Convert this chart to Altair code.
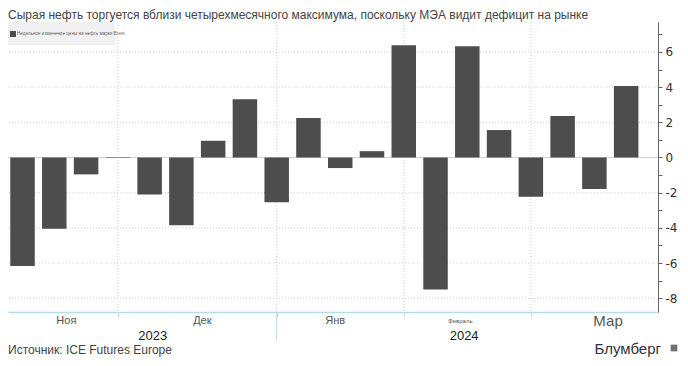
import altair as alt
import pandas as pd

# ---- data ----
weeks = ["2023-11-03", "2023-11-10", "2023-11-17", "2023-11-24", "2023-12-01",
         "2023-12-08", "2023-12-15", "2023-12-22", "2023-12-29", "2024-01-05",
         "2024-01-12", "2024-01-19", "2024-01-26", "2024-02-02", "2024-02-09",
         "2024-02-16", "2024-02-23", "2024-03-01", "2024-03-08", "2024-03-15"]
changes = [-6.17, -4.05, -0.96, 0.03, -2.1, -3.85, 0.95, 3.31, -2.54, 2.25,
           -0.6, 0.36, 6.38, -7.5, 6.32, 1.56, -2.23, 2.36, -1.79, 4.07]
month_labels = ["Ноя", "Дек", "Янв", "Февраль", "Мар"]
month_pos = [1.38, 5.66, 9.84, 13.78, 18.43]
month_size = [11, 11, 11, 6, 15]
year_labels = ["2023", "2024"]
year_pos = [4.1, 13.9]
grid_x = [3, 8, 12, 16]
grid_y = [-8, -6, -4, -2, 2, 4, 6]
y_ticks = list(range(-8, 8))

title_text = "Сырая нефть торгуется вблизи четырехмесячного максимума, поскольку МЭА видит дефицит на рынке"
legend_text = "Недельное изменение цены на нефть марки Brent"
source_text = "Источник: ICE Futures Europe"
brand_text = "Блумберг"

bars_df = pd.DataFrame({"week": weeks, "idx": list(range(len(weeks))), "change": changes})
months_df = pd.DataFrame({"label": month_labels, "pos": month_pos, "size": month_size})
years_df = pd.DataFrame({"label": year_labels, "pos": year_pos})
gx_df = pd.DataFrame({"pos": grid_x})
gy_df = pd.DataFrame({"v": grid_y})
zero_df = pd.DataFrame({"v": [0]})
div_df = pd.DataFrame({"pos": [8]})

W, H = 650, 290
xscale = alt.Scale(domain=[-0.3, 19.845], nice=False, zero=False)
yscale = alt.Scale(domain=[-8.78, 7.70], nice=False, zero=False)

FONT = "Liberation Sans"
one = alt.Data(values=[{"a": 1}])

xaxis = alt.Axis(values=grid_x, labels=False, grid=False, title=None,
                 domainColor="#b6dcea", domainWidth=1.5,
                 tickColor="#b6dcea", tickSize=5)
yaxis = alt.Axis(orient="right", values=y_ticks, grid=False, title=None,
                 labelExpr="datum.value % 2 == 0 ? '' + datum.value : ''",
                 labelFont="DejaVu Sans", labelFontSize=12, labelColor="#333333",
                 labelPadding=3, domainColor="#666666", tickColor="#666666",
                 tickSize=4, labelBaseline="middle")


def X(field):
    return alt.X(field, scale=xscale, axis=xaxis)


def Y(field):
    return alt.Y(field, scale=yscale, axis=yaxis)


# vertical dotted gridlines
vgrid = alt.Chart(gx_df).mark_rule(color="#cfcfcf", strokeDash=[1, 2], strokeWidth=1).encode(
    x=X("pos:Q")
)
# horizontal dotted gridlines
hgrid = alt.Chart(gy_df).mark_rule(color="#cfcfcf", strokeDash=[1, 2], strokeWidth=1).encode(
    y=Y("v:Q")
)
zero_line = alt.Chart(zero_df).mark_rule(color="#d0d0d0", strokeWidth=1).encode(
    y=Y("v:Q")
)

bars = alt.Chart(bars_df).mark_bar(size=24.5, color="#4d4d4d").encode(
    x=X("idx:Q"),
    y=Y("change:Q"),
    tooltip=["week:N", "change:Q"]
)

year_div = alt.Chart(div_df).mark_rule(color="#b6dcea", strokeWidth=1).encode(
    x=X("pos:Q"), y=alt.value(H), y2=alt.value(H + 28)
)

months = alt.Chart(months_df).mark_text(font=FONT, color="#555555", baseline="middle").encode(
    x=X("pos:Q"),
    y=alt.value(H + 9),
    text="label:N",
    size=alt.Size("size:Q", scale=None, legend=None),
)
years = alt.Chart(years_df).mark_text(font=FONT, color="#222222", fontSize=13, baseline="middle").encode(
    x=X("pos:Q"),
    y=alt.value(H + 24),
    text="label:N",
)

title = alt.Chart(one).mark_text(text=title_text, font=FONT, fontSize=12, color="#444444",
                                 align="left", baseline="middle").encode(
    x=alt.value(0), y=alt.value(-7)
)
legend_box = alt.Chart(one).mark_rect(color="#f1f1f1").encode(
    x=alt.value(0), x2=alt.value(107), y=alt.value(0), y2=alt.value(23)
)
legend_sq = alt.Chart(one).mark_rect(color="#4d4d4d").encode(
    x=alt.value(2), x2=alt.value(8), y=alt.value(9), y2=alt.value(15)
)
legend_txt = alt.Chart(one).mark_text(text=legend_text, font=FONT, fontSize=4.6, color="#666666",
                                      align="left", baseline="middle").encode(
    x=alt.value(9), y=alt.value(12)
)
source = alt.Chart(one).mark_text(text=source_text, font=FONT, fontSize=12, color="#444444",
                                  align="left", baseline="middle").encode(
    x=alt.value(0), y=alt.value(H + 38)
)
brand = alt.Chart(one).mark_text(text=brand_text, font=FONT, fontSize=15, color="#333333",
                                 align="right", baseline="middle").encode(
    x=alt.value(653), y=alt.value(H + 37)
)
icon = alt.Chart(one).mark_point(shape="square", filled=True, size=45, color="#333333").encode(
    x=alt.value(666), y=alt.value(H + 36)
)

chart = alt.layer(
    vgrid, hgrid, zero_line, legend_box, legend_sq, legend_txt, bars, year_div,
    months, years, title, source, brand, icon
).properties(
    width=W, height=H,
    autosize=alt.AutoSizeParams(type="none"),
    padding={"left": 0, "top": 14, "right": 22, "bottom": 46},
).configure_view(stroke=None).configure_axis(labelFont=FONT)

chart.save("out.html", embed_options={"renderer": "svg", "actions": False})
